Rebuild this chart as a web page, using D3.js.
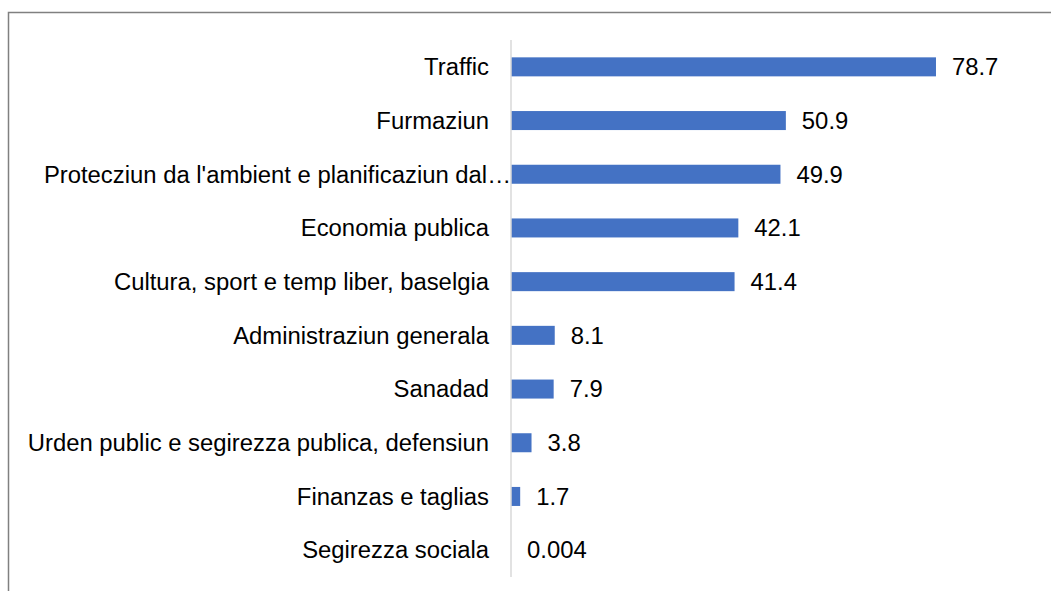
<!DOCTYPE html>
<html>
<head>
<meta charset="utf-8">
<script src="https://cdn.jsdelivr.net/npm/d3@7"></script>
<style>
  body { margin: 0; background: #fff; }
  text { font-family: "Liberation Sans", Arial, sans-serif; font-size: 23.85px; fill: #000; }
</style>
</head>
<body>
<div id="chart"></div>
<script>
// Data
var categories = [
    'Traffic',
    'Furmaziun',
    'Protecziun da l\'ambient e planificaziun dal\u2026',
    'Economia publica',
    'Cultura, sport e temp liber, baselgia',
    'Administraziun generala',
    'Sanadad',
    'Urden public e segirezza publica, defensiun',
    'Finanzas e taglias',
    'Segirezza sociala'
];
var values = [78.7, 50.9, 49.9, 42.1, 41.4, 8.1, 7.9, 3.8, 1.7, 0.004];
var valueLabels = ['78.7', '50.9', '49.9', '42.1', '41.4', '8.1', '7.9', '3.8', '1.7', '0.004'];

var data = categories.map(function(c, i) {
    return {cat: c, value: values[i], label: valueLabels[i]};
});

// Base chart space
var width = 1051, height = 591;

var svg = d3.select('#chart').append('svg')
    .attr('width', width)
    .attr('height', height);

// frame (runs off the right and bottom edges)
svg.append('rect')
    .attr('x', 8.5)
    .attr('y', 12.5)
    .attr('width', width + 20)
    .attr('height', height + 20)
    .style('fill', 'none')
    .style('stroke', '#808080')
    .style('stroke-width', 1.5);

// Scales
var xScale = d3.scaleLinear()
    .domain([0, 80])
    .range([511, 943]);

var yScale = d3.scaleBand()
    .domain(categories)
    .range([40, 577])
    .paddingInner(0.646)
    .paddingOuter(0.323);

// category labels (the truncated one runs up to the axis line)
svg.selectAll('.cat')
    .data(data)
    .enter()
    .append('text')
    .attr('class', 'cat')
    .attr('x', function(d) {
        return d.cat.slice(-1) === '\u2026' ? xScale(0) : xScale(0) - 22;
    })
    .attr('y', function(d) { return yScale(d.cat) + yScale.bandwidth() / 2; })
    .attr('dy', '0.35em')
    .attr('text-anchor', 'end')
    .text(function(d) { return d.cat; });

// Bars
svg.selectAll('.bar')
    .data(data)
    .enter()
    .append('rect')
    .attr('class', 'bar')
    .attr('x', xScale(0))
    .attr('y', function(d) { return yScale(d.cat); })
    .attr('width', function(d) { return xScale(d.value) - xScale(0); })
    .attr('height', yScale.bandwidth())
    .style('fill', '#4472C4');

// vertical axis line
svg.append('line')
    .attr('x1', xScale(0))
    .attr('x2', xScale(0))
    .attr('y1', yScale.range()[0])
    .attr('y2', yScale.range()[1])
    .style('stroke', '#d9d9d9')
    .style('stroke-width', 1.5);

// value labels
svg.selectAll('.val')
    .data(data)
    .enter()
    .append('text')
    .attr('class', 'val')
    .attr('x', function(d) { return xScale(d.value) + 16; })
    .attr('y', function(d) { return yScale(d.cat) + yScale.bandwidth() / 2; })
    .attr('dy', '0.35em')
    .text(function(d) { return d.label; });
</script>
</body>
</html>
